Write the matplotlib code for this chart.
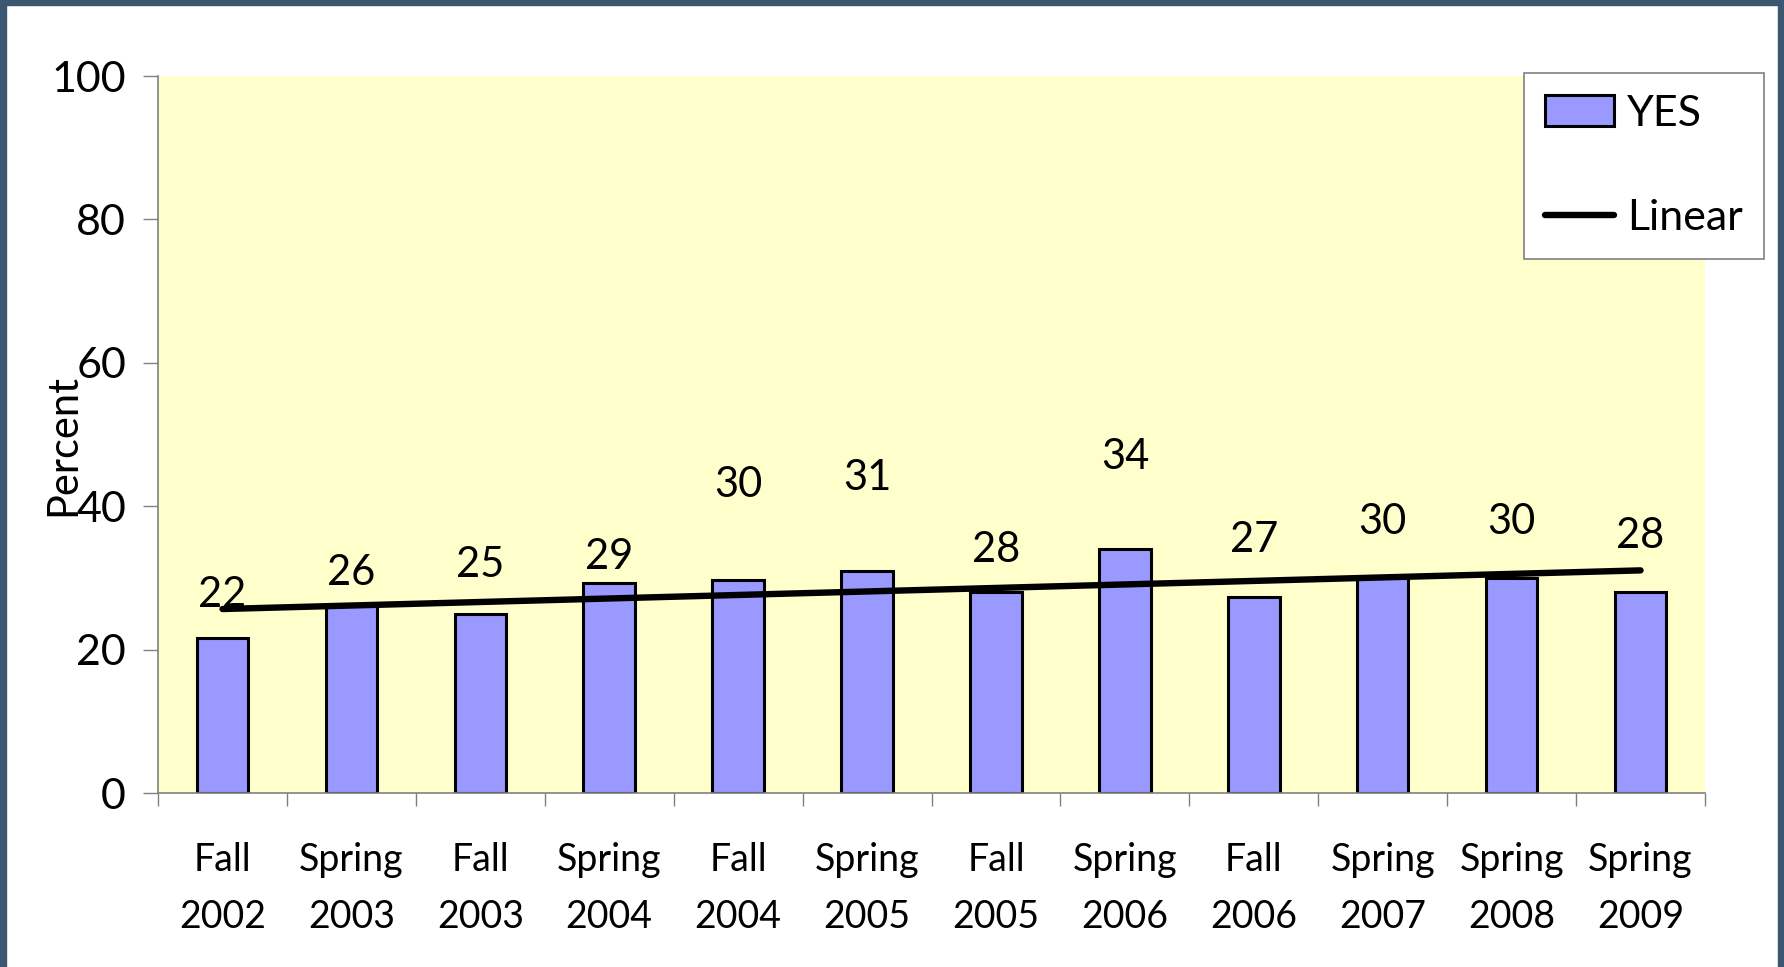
"""
YES responses by term, bar chart with a linear trend line.
"""
import matplotlib
matplotlib.use("Agg")
import matplotlib.pyplot as plt
import numpy as np
from matplotlib.patches import Rectangle

TERMS = ["Fall\n2002", "Spring\n2003", "Fall\n2003", "Spring\n2004",
         "Fall\n2004", "Spring\n2005", "Fall\n2005", "Spring\n2006",
         "Fall\n2006", "Spring\n2007", "Spring\n2008", "Spring\n2009"]
YES = [21.6, 26.2, 25.0, 29.3, 29.7, 31.0, 28.1, 34.0, 27.4, 30.0, 30.0, 28.0]
# how far above the bar top each value label sits (percentage points)
LABEL_LIFT = [6.0, 4.5, 6.8, 3.6, 13.3, 13.0, 5.8, 12.8, 7.9, 7.8, 7.8, 7.8]
Y_TICKS = [0, 20, 40, 60, 80, 100]

BAR_COLOR = "#9999ff"
PLOT_BG = "#ffffcc"
FRAME = "#3b5870"
AXIS_GRAY = "#808080"

plt.rcParams["font.family"] = ["Lato", "DejaVu Sans"]


def main() -> None:
    fig = plt.figure(figsize=(17.84, 9.67), dpi=100)
    ax = fig.add_axes([0.0886, 0.1799, 0.8671, 0.7415])
    ax.set_facecolor(PLOT_BG)

    x = np.arange(len(TERMS))
    bars = ax.bar(x, YES, width=0.4, color=BAR_COLOR, edgecolor="black",
                  linewidth=2.2, label="YES", zorder=2)

    slope, intercept = np.polyfit(x, YES, 1)
    trend, = ax.plot(x, slope * x + intercept, color="black", linewidth=4.6,
                     solid_capstyle="round", label="Linear", zorder=3)

    for xi, v, lift in zip(x, YES, LABEL_LIFT):
        ax.text(xi, v + lift, f"{v:.0f}", ha="center", va="center",
                fontsize=30, zorder=4)

    ax.set_xlim(-0.5, len(TERMS) - 0.5)
    ax.set_ylim(0, 100)
    ax.set_yticks(Y_TICKS)
    ax.tick_params(axis="y", labelsize=31, length=11, width=1,
                   color=AXIS_GRAY, pad=12)

    ax.set_xticks(x)
    ax.set_xticklabels(TERMS, fontsize=27, linespacing=1.75)
    ax.set_xticks(np.arange(-0.5, len(TERMS)), minor=True)
    ax.tick_params(axis="x", which="major", length=0, pad=35)
    ax.tick_params(axis="x", which="minor", length=9, width=1,
                   color=AXIS_GRAY)

    for side in ("top", "right"):
        ax.spines[side].set_visible(False)
    for side in ("left", "bottom"):
        ax.spines[side].set_color(AXIS_GRAY)
        ax.spines[side].set_linewidth(1.2)

    ax.set_ylabel("Percent", fontsize=30)
    ax.yaxis.set_label_coords(-0.049, 0.485)

    leg = ax.legend([bars, trend], ["YES", "Linear"],
                    loc="upper right", bbox_to_anchor=(0.989, 0.9245),
                    bbox_transform=fig.transFigure, borderaxespad=0,
                    fontsize=31, frameon=True, fancybox=False,
                    framealpha=1, edgecolor=AXIS_GRAY, labelspacing=1.55,
                    handlelength=1.6, handleheight=0.72, handletextpad=0.3,
                    borderpad=0.5)
    leg.get_frame().set_linewidth(1.2)

    # slate frame around the slide (left, top, right)
    fw, fh = 6 / 1784, 5 / 967
    for rect in [(0, 0, fw, 1), (0, 1 - fh, 1, fh), (1 - fw, 0, fw, 1)]:
        fig.add_artist(Rectangle(rect[:2], rect[2], rect[3],
                                 transform=fig.transFigure, color=FRAME,
                                 zorder=10))

    fig.savefig("out.png", dpi=100)


if __name__ == "__main__":
    main()
